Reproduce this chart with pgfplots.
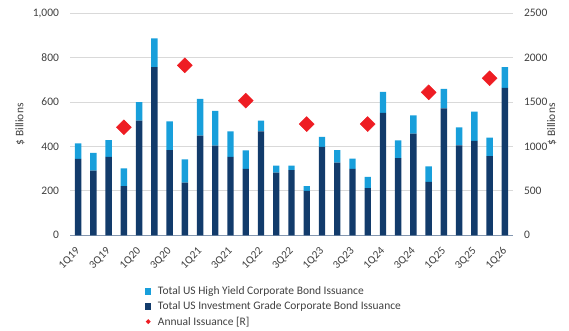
\documentclass[border=0pt]{standalone}
\usepackage{fontspec}
\setmainfont{Carlito}
\usepackage{pgfplots}
\pgfplotsset{compat=1.18}
\definecolor{hy}{HTML}{189FDB}
\definecolor{ig}{HTML}{123B6B}
\definecolor{ann}{HTML}{EE1D23}
\definecolor{gridc}{HTML}{D9D9D9}
\definecolor{axl}{HTML}{8497B0}
\definecolor{txt}{HTML}{404040}

\pgfplotstableread{
x IG HY
0 344 70
1 291 80
2 353 76
3 221 81
4 516 84
5 758 129
6 384 129
7 237 105
8 449 165
9 404 157
10 353 115
11 299 84
12 468 48
13 282 32
14 294 20
15 200 21
16 398 45
17 327 57
18 299 46
19 213 50
20 551 95
21 348 80
22 458 82
23 241 70
24 572 87
25 405 81
26 425 132
27 357 83
28 664 93
}\quarters

\pgfplotstableread{
x A
3 1216
7 1914
11 1516
15 1253
19 1253
23 1610
27 1768
}\annual

\begin{document}
\begin{tikzpicture}[font=\fontsize{11.5}{13.5}\selectfont, text=txt]
\path[use as bounding box] (0,0) rectangle (569pt,331pt);
\begin{axis}[
  at={(70.5pt,95.7pt)}, anchor=south west,
  scale only axis, width=442pt, height=222pt,
  xmin=-0.5, xmax=28.5, ymin=0, ymax=1000,
  ybar stacked, bar width=0.42,
  separate axis lines,
  axis x line*=bottom, axis y line*=left,
  x axis line style={axl, line width=1.5pt, -},
  y axis line style={draw=none},
  major tick length=0pt,
  ytick={0,200,...,1000},
  ymajorgrids, grid style={gridc, line width=0.8pt},
  xtick={0,2,...,28},
  xticklabels={1Q19,3Q19,1Q20,3Q20,1Q21,3Q21,1Q22,3Q22,1Q23,3Q23,1Q24,3Q24,1Q25,3Q25,1Q26},
  xticklabel style={xshift=-3pt, yshift=-11pt, rotate=45, anchor=north east, inner sep=0pt,
    font=\fontsize{11.2}{13}\selectfont},
  yticklabel style={/pgf/number format/1000 sep={,}, xshift=-8pt},
  /pgf/number format/assume math mode=true,
  ylabel={\$ Billions},
  every axis y label/.style={at={(axis description cs:-0.114,0.5)}, rotate=90, anchor=center},
]
\addplot[fill=ig, draw=none] table[x=x, y=IG] {\quarters};
\addplot[fill=hy, draw=none] table[x=x, y=HY] {\quarters};
\end{axis}
\begin{axis}[
  at={(70.5pt,95.7pt)}, anchor=south west,
  scale only axis, width=442pt, height=222pt,
  xmin=-0.5, xmax=28.5, ymin=0, ymax=2500,
  axis x line=none, axis y line*=right,
  y axis line style={draw=none},
  major tick length=0pt,
  ytick={0,500,...,2500},
  yticklabel style={/pgf/number format/1000 sep={}, xshift=8pt},
  /pgf/number format/assume math mode=true,
  ylabel={\$ Billions},
  every axis y label/.style={at={(axis description cs:1.089,0.5)}, rotate=90, anchor=center},
  legend style={draw=none, fill=none, at={(0.168,-0.222)}, anchor=north west,
    inner sep=0pt, row sep=1.5pt, font=\fontsize{11.5}{13.5}\selectfont},
  legend cell align=left,
]
\addlegendimage{legend image code/.code={\path[draw=none,fill=none] (0pt,0pt) rectangle (11pt,0pt);\fill[hy,draw=none] (0pt,-3pt) rectangle (6.5pt,3.5pt);}}
\addlegendentry{Total US High Yield Corporate Bond Issuance}
\addlegendimage{legend image code/.code={\path[draw=none,fill=none] (0pt,0pt) rectangle (11pt,0pt);\fill[ig,draw=none] (0pt,-3pt) rectangle (6.5pt,3.5pt);}}
\addlegendentry{Total US Investment Grade Corporate Bond Issuance}
\addplot[only marks, mark=square*, mark size=5.3pt, mark options={rotate=45, fill=ann, draw=ann},
  legend image code/.code={\path[draw=none,fill=none] (0pt,0pt) rectangle (11pt,0pt);\fill[ann,draw=none] (3.25pt,-2.5pt) -- (5.75pt,0pt) -- (3.25pt,2.5pt) -- (0.75pt,0pt) -- cycle;}]
  table[x=x, y=A] {\annual};
\addlegendentry{Annual Issuance [R]}
\end{axis}
\end{tikzpicture}
\end{document}
